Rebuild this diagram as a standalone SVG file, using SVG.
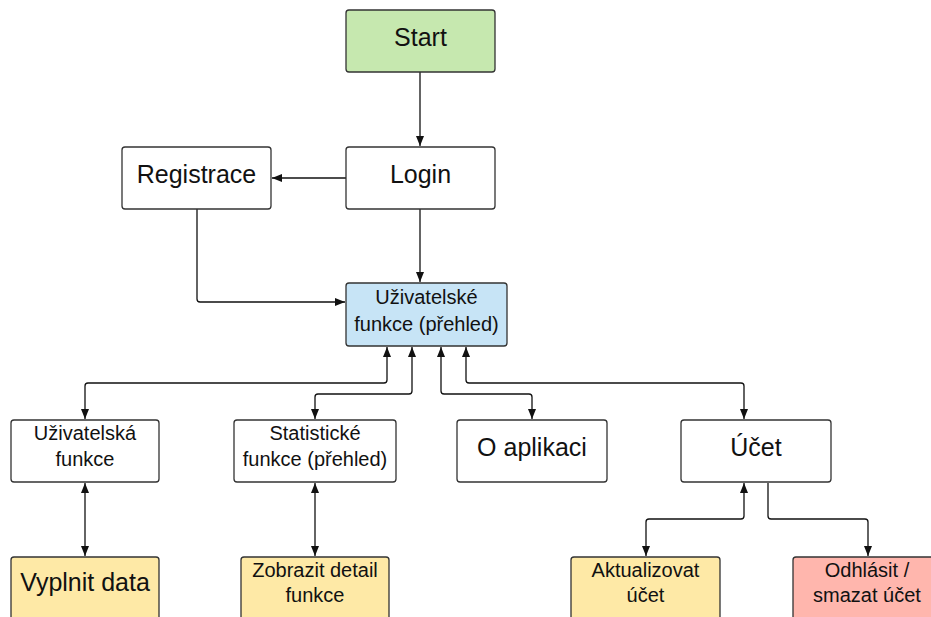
<svg xmlns="http://www.w3.org/2000/svg" width="931" height="617" viewBox="0 0 931 617">
<style>
.n rect{stroke:#333;stroke-width:1.3}
.w{fill:#fff}.g{fill:#c6e8af}.b{fill:#c7e4f6}.y{fill:#fee9a6}.r{fill:#ffb6ad}
text{font-family:"Liberation Sans",Arial,sans-serif;fill:#111;text-anchor:middle}
.L{font-size:25px}.S{font-size:20px}
#edges path{fill:none;stroke:#111;stroke-width:1.3}
</style>
<defs>
<marker id="a" viewBox="0 0 10 10" refX="10" refY="5" markerWidth="10" markerHeight="10" markerUnits="userSpaceOnUse" orient="auto-start-reverse">
<path d="M0,1 L10,5 L0,9 z" fill="#111"/>
</marker>
</defs>
<g id="edges">
<path d="M420,72 V146" marker-end="url(#a)"/>
<path d="M346,178 H272" marker-end="url(#a)"/>
<path d="M420,209 V282" marker-end="url(#a)"/>
<path d="M197,209 V299 Q197,302 200,302 H345" marker-end="url(#a)"/>
<path d="M387,347 V380 Q387,383 384,383 H88 Q85,383 85,386 V419" marker-start="url(#a)" marker-end="url(#a)"/>
<path d="M412,347 V391 Q412,394 409,394 H318 Q315,394 315,397 V419" marker-start="url(#a)" marker-end="url(#a)"/>
<path d="M441,347 V391 Q441,394 444,394 H529 Q532,394 532,397 V419" marker-start="url(#a)" marker-end="url(#a)"/>
<path d="M466,347 V380 Q466,383 469,383 H741 Q744,383 744,386 V419" marker-start="url(#a)" marker-end="url(#a)"/>
<path d="M85,483 V556" marker-start="url(#a)" marker-end="url(#a)"/>
<path d="M315,483 V556" marker-start="url(#a)" marker-end="url(#a)"/>
<path d="M744,483 V516 Q744,519 741,519 H649 Q646,519 646,522 V556" marker-start="url(#a)" marker-end="url(#a)"/>
<path d="M768,483 V516 Q768,519 771,519 H865 Q868,519 868,522 V556" marker-end="url(#a)"/>
</g>
<g id="start" class="n"><rect class="g" x="346" y="10" width="149" height="62" rx="3"/><text class="L" x="420.5" y="46">Start</text></g>
<g id="login" class="n"><rect class="w" x="346" y="147" width="149" height="62" rx="3"/><text class="L" x="420.5" y="183">Login</text></g>
<g id="registrace" class="n"><rect class="w" x="122" y="147" width="149" height="62" rx="3"/><text class="L" x="196.5" y="183">Registrace</text></g>
<g id="prehled" class="n"><rect class="b" x="346" y="283" width="161" height="63" rx="3"/><text class="S" x="426.5" y="304">Uživatelské</text><text class="S" x="426.5" y="331">funkce (přehled)</text></g>
<g id="uzivatelska" class="n"><rect class="w" x="11" y="420" width="148" height="62" rx="3"/><text class="S" x="85" y="440">Uživatelská</text><text class="S" x="85" y="466">funkce</text></g>
<g id="statisticke" class="n"><rect class="w" x="234" y="420" width="162" height="62" rx="3"/><text class="S" x="315" y="440">Statistické</text><text class="S" x="315" y="466">funkce (přehled)</text></g>
<g id="oaplikaci" class="n"><rect class="w" x="457" y="420" width="150" height="62" rx="3"/><text class="L" x="532" y="456">O aplikaci</text></g>
<g id="ucet" class="n"><rect class="w" x="681" y="420" width="150" height="62" rx="3"/><text class="L" x="756" y="456">Účet</text></g>
<g id="vyplnit" class="n"><rect class="y" x="11" y="557" width="148" height="70" rx="3"/><text class="L" x="85" y="591">Vyplnit data</text></g>
<g id="zobrazit" class="n"><rect class="y" x="241" y="557" width="148" height="70" rx="3"/><text class="S" x="315" y="577">Zobrazit detail</text><text class="S" x="315" y="602">funkce</text></g>
<g id="aktualizovat" class="n"><rect class="y" x="571" y="557" width="149" height="70" rx="3"/><text class="S" x="645.5" y="577">Aktualizovat</text><text class="S" x="645.5" y="602">účet</text></g>
<g id="odhlasit" class="n"><rect class="r" x="793" y="557" width="150" height="70" rx="3"/><text class="S" x="867" y="577">Odhlásit /</text><text class="S" x="867" y="602">smazat účet</text></g>
</svg>
